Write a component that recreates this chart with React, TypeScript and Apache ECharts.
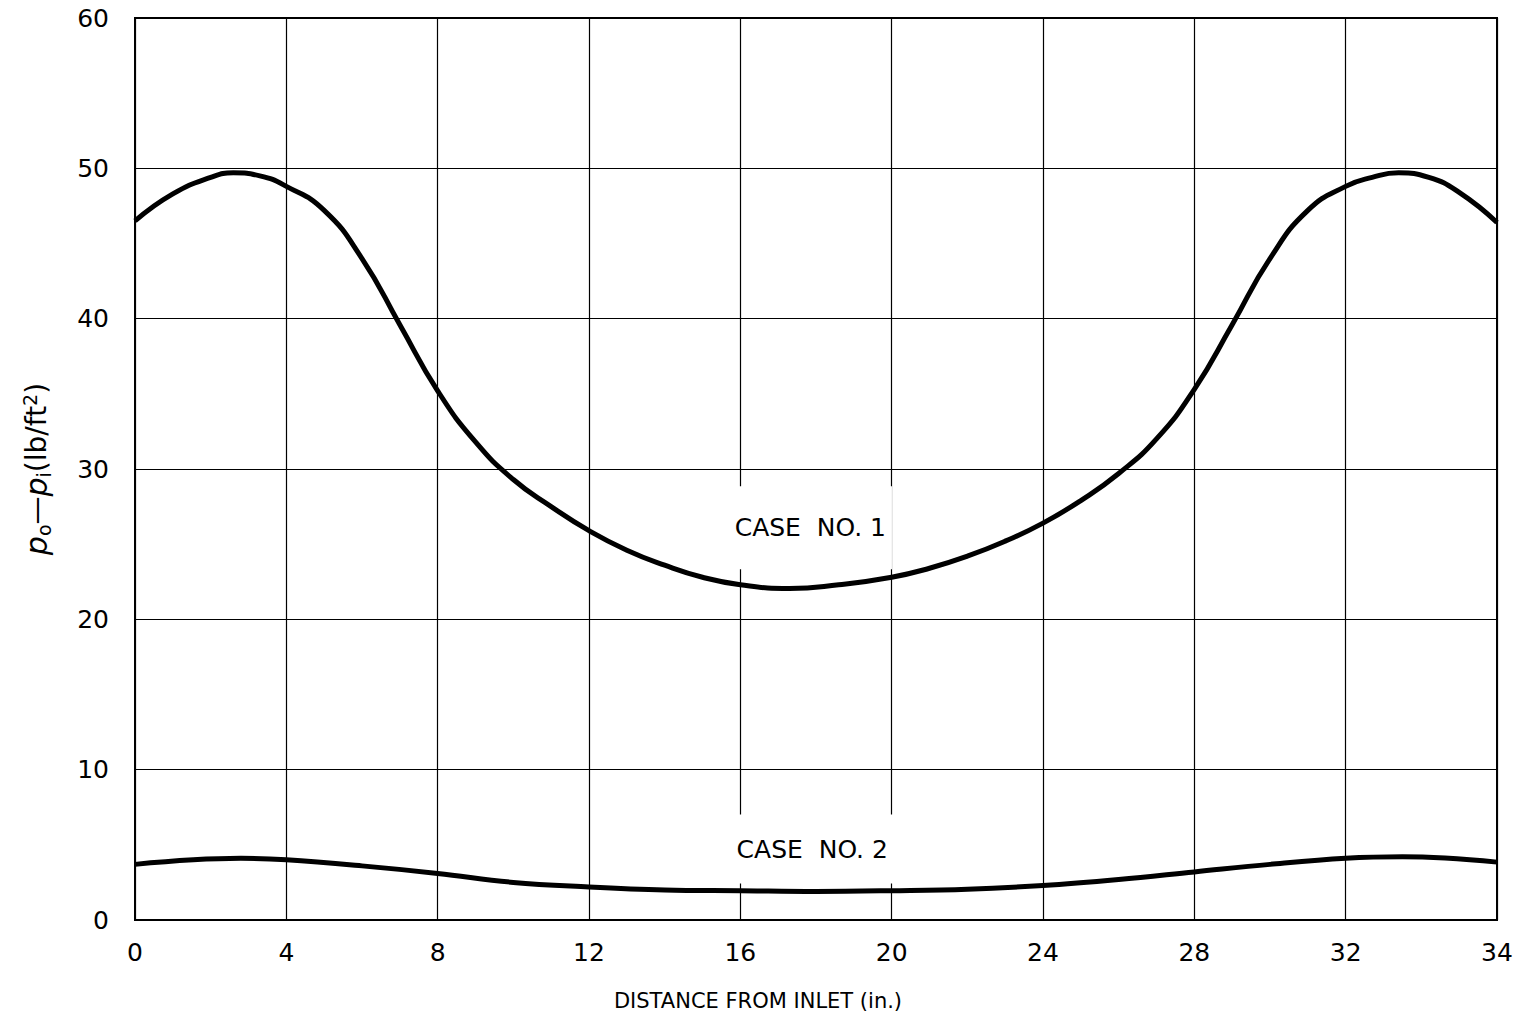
import React, { useEffect, useRef } from "react";
import * as echarts from "echarts";

const xTicks = [0, 4, 8, 12, 16, 20, 24, 28, 32, 36];
const xTickLabels = ["0", "4", "8", "12", "16", "20", "24", "28", "32", "34"];

const case1X = [0, 1, 2, 2.6, 3.3, 4, 5, 6, 7, 8, 9, 10, 11, 12, 13, 14, 15, 16, 17.3, 18.6, 20, 21, 22, 23, 24, 25, 26, 27, 28, 29, 30, 31, 32, 32.7, 33.4, 34.2, 35, 36];
const case1Y = [46.5, 48.3, 49.4, 49.7, 49.5, 48.8, 47.2, 44.0, 39.6, 35.2, 31.8, 29.3, 27.5, 25.9, 24.6, 23.6, 22.8, 22.3, 22.05, 22.3, 22.8, 23.4, 24.2, 25.2, 26.4, 27.9, 29.7, 32.0, 35.3, 39.6, 44.0, 47.2, 48.8, 49.4, 49.7, 49.4, 48.4, 46.4];

const case2X = [0, 2.8, 4, 6, 8, 10, 12, 14, 16, 18, 20, 22, 24, 26, 28, 30, 32, 33.5, 36];
const case2Y = [3.7, 4.1, 4.0, 3.6, 3.1, 2.5, 2.2, 2.0, 1.95, 1.9, 1.95, 2.05, 2.3, 2.7, 3.2, 3.7, 4.1, 4.2, 3.85];

const caseLabels = ["CASE  NO. 1", "CASE  NO. 2"];
const caseLabelPos = [[17.85, 26.1], [17.9, 4.72]];
const caseLabelPad = [[30, 6, 28, 6], [30, 6, 14, 6]];

const FONT = "DejaVu Sans";

export default function App() {
  const ref = useRef<HTMLDivElement>(null);
  useEffect(() => {
    if (!ref.current) return;
    const chart = echarts.init(ref.current, null, { renderer: "svg" });
    const zip = (xs: number[], ys: number[]) => xs.map((x, i) => [x, ys[i]]);
    const labelMark = (i: number) => ({
      symbol: "rect",
      symbolSize: 0,
      data: [
        {
          coord: caseLabelPos[i],
          label: {
            show: true,
            position: "inside",
            formatter: caseLabels[i],
            color: "#000",
            fontFamily: FONT,
            fontSize: 25,
            backgroundColor: "#fff",
            padding: caseLabelPad[i],
          },
        },
      ],
    });
    chart.setOption({
      animation: false,
      backgroundColor: "#fff",
      grid: {
        left: 135,
        right: 25,
        top: 18,
        bottom: 105,
        show: true,
        borderColor: "#000",
        borderWidth: 2,
        backgroundColor: "transparent",
      },
      xAxis: {
        type: "value",
        min: 0,
        max: 36,
        interval: 4,
        axisLine: { show: true, lineStyle: { color: "#000", width: 2 } },
        axisTick: { show: false },
        splitLine: { show: true, lineStyle: { color: "#000", width: 1.2 } },
        axisLabel: {
          color: "#000",
          fontFamily: FONT,
          fontSize: 25,
          margin: 20,
          formatter: (v: number) => {
            const i = xTicks.indexOf(v);
            return i >= 0 ? xTickLabels[i] : "";
          },
        },
        name: "DISTANCE FROM INLET (in.)",
        nameLocation: "middle",
        nameGap: 70,
        nameTextStyle: { color: "#000", fontFamily: FONT, fontSize: 21, padding: [0, 116, 0, 0] },
      },
      yAxis: {
        type: "value",
        min: 0,
        max: 60,
        interval: 10,
        axisLine: { show: true, lineStyle: { color: "#000", width: 2 } },
        axisTick: { show: false },
        splitLine: { show: true, lineStyle: { color: "#000", width: 1.2 } },
        axisLabel: { color: "#000", fontFamily: FONT, fontSize: 25, margin: 26 },
        name: "{i|p}{sub|o}{n|—}{i|p}{sub|i}{n|(lb/ft}{sup|2}{n|)}",
        nameLocation: "middle",
        nameRotate: 90,
        nameGap: 82,
        nameTextStyle: {
          color: "#000",
          fontFamily: FONT,
          fontSize: 28,
          rich: {
            i: { fontFamily: FONT, fontSize: 30, fontStyle: "italic", color: "#000" },
            n: { fontFamily: FONT, fontSize: 28, color: "#000" },
            sub: { fontFamily: FONT, fontSize: 19, color: "#000", verticalAlign: "bottom", padding: [14, 0, 0, 0] },
            sup: { fontFamily: FONT, fontSize: 19, color: "#000", verticalAlign: "top", padding: [0, 0, 12, 0] },
          },
        },
      },
      series: [
        {
          type: "line",
          name: "Case 1",
          data: zip(case1X, case1Y),
          smooth: 0.5,
          showSymbol: false,
          symbol: "none",
          lineStyle: { color: "#000", width: 5 },
          markPoint: labelMark(0),
        },
        {
          type: "line",
          name: "Case 2",
          data: zip(case2X, case2Y),
          smooth: 0.4,
          showSymbol: false,
          symbol: "none",
          lineStyle: { color: "#000", width: 5 },
          markPoint: labelMark(1),
        },
      ],
    });
    return () => chart.dispose();
  }, []);
  return (
    <div
      ref={ref}
      style={{ position: "fixed", left: 0, top: 0, width: 1522, height: 1025, background: "#fff" }}
    />
  );
}
